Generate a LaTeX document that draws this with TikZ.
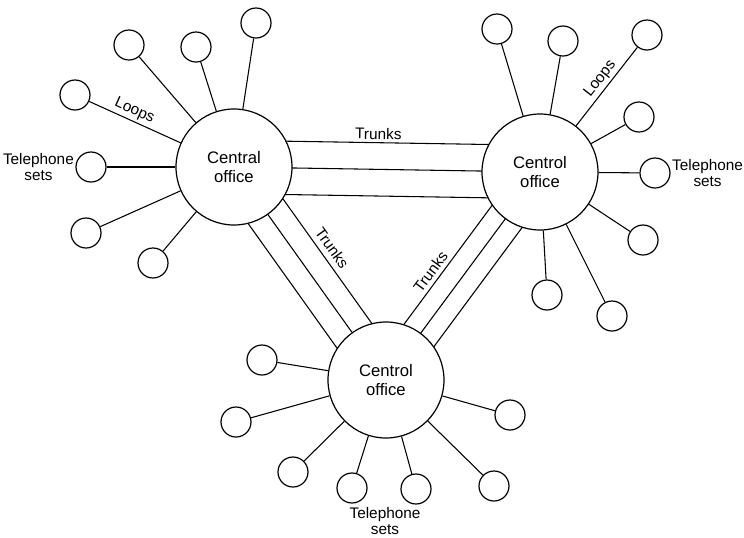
\documentclass[tikz,border=0pt]{standalone}
\usepackage{fontspec}
\setmainfont{Liberation Sans}
\usetikzlibrary{positioning,calc,backgrounds}
\tikzset{
  office/.style={circle,draw,line width=0.9pt,fill=white,minimum size=87pt,inner sep=0pt,align=center,font=\fontsize{12.5}{14}\selectfont},
  phone/.style={circle,draw,line width=0.9pt,fill=white,minimum size=22.5pt,inner sep=0pt},
  loop/.style={line width=0.8pt},
  trunk/.style={line width=0.8pt},
  lbl/.style={font=\fontsize{11.5}{12.5}\selectfont,align=center,inner sep=1pt}
}
\begin{document}
\begin{tikzpicture}[x=0.75pt,y=-0.75pt]
    \useasboundingbox (0,0) rectangle (744,537);

    % === Central offices ===
    \node[office] (co-l) at (234,167) {Central\\office};
    \node[office] (co-r) at (540,172) {Centrol\\office};
    \node[office] (co-b) at (386,380) {Centrol\\office};

    % === Telephone sets and loops ===
    \foreach \n/\x/\y in {1/129/45, 2/196/47, 3/256/23, 4/75/95, 5/91/167, 6/86/233, 7/153/263} {
        \node[phone] (p-l\n) at (\x,\y) {};
        \draw[loop] (p-l\n) -- (co-l);
    }
    \foreach \n/\x/\y in {1/497/29, 2/563/41, 3/647/35, 4/639/117, 5/655/173, 6/643/240, 7/612/316, 8/547/295} {
        \node[phone] (p-r\n) at (\x,\y) {};
        \draw[loop] (co-r) -- (p-r\n);
    }
    \foreach \n/\x/\y in {1/262/360, 2/236/422, 3/293/472, 4/352/488, 5/416/489, 6/494/486, 7/510/415} {
        \node[phone] (p-b\n) at (\x,\y) {};
        \draw[loop] (co-b) -- (p-b\n);
    }
    \path (p-l4) -- node[lbl,sloped,above=1pt,pos=0.45] {Loops} (co-l);
    \path (co-r) -- node[lbl,sloped,above=1pt,pos=0.52] {Loops} (p-r3);

    % Telephone sets labels
    \node[lbl, left=0pt of p-l5] (ts-l) {Telephone\\sets};
    \node[lbl, right=0pt of p-r5] (ts-r) {Telephone\\sets};
    \node[lbl] (ts-b) at (385,521) {Telephone\\sets};

    % === Trunks (behind the offices) ===
    \begin{scope}[on background layer]
    \draw[trunk] ($(co-l.center)!20pt!90:(co-r.center)$) -- node[lbl,sloped,above=1pt,pos=0.47] {Trunks} ($(co-r.center)!20pt!-90:(co-l.center)$);
    \draw[trunk] (co-l.center) -- (co-r.center);
    \draw[trunk] ($(co-l.center)!20pt!-90:(co-r.center)$) -- ($(co-r.center)!20pt!90:(co-l.center)$);

    \draw[trunk] ($(co-l.center)!16pt!90:(co-b.center)$) -- node[lbl,sloped,above=3pt,pos=0.47] {Trunks} ($(co-b.center)!16pt!-90:(co-l.center)$);
    \draw[trunk] (co-l.center) -- (co-b.center);
    \draw[trunk] ($(co-l.center)!16pt!-90:(co-b.center)$) -- ($(co-b.center)!16pt!90:(co-l.center)$);

    \draw[trunk] ($(co-b.center)!14pt!90:(co-r.center)$) -- node[lbl,sloped,above=2pt,pos=0.44] {Trunks} ($(co-r.center)!14pt!-90:(co-b.center)$);
    \draw[trunk] (co-b.center) -- (co-r.center);
    \draw[trunk] ($(co-b.center)!14pt!-90:(co-r.center)$) -- ($(co-r.center)!14pt!90:(co-b.center)$);
    \end{scope}

\end{tikzpicture}
\end{document}
